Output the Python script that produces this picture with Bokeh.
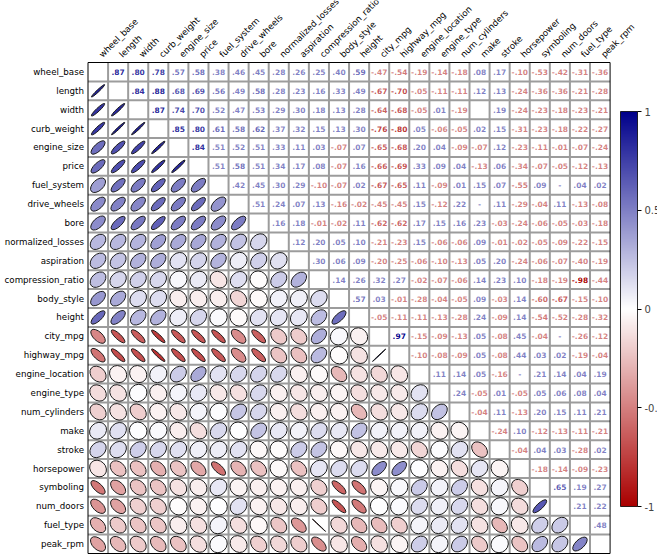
import math
from bokeh.plotting import figure
from bokeh.models import ColumnDataSource, Range1d, LinearColorMapper, ColorBar, FixedTicker
from bokeh.transform import linear_cmap
from bokeh.core.properties import value
from bokeh.embed import file_html
from bokeh.resources import INLINE

labels = ["wheel_base", "length", "width", "curb_weight", "engine_size", "price",
          "fuel_system", "drive_wheels", "bore", "normalized_losses", "aspiration",
          "compression_ratio", "body_style", "height", "city_mpg", "highway_mpg",
          "engine_location", "engine_type", "num_cylinders", "make", "stroke",
          "horsepower", "symboling", "num_doors", "fuel_type", "peak_rpm"]

# upper triangle, row i holds correlations with columns i+1 .. 25
r_wheel_base = [.87, .80, .78, .57, .58, .38, .46, .45, .28, .26, .25, .40, .59, -.47, -.54, -.19, -.14, -.18, .08, .17, -.10, -.53, -.42, -.31, -.36]
r_length = [.84, .88, .68, .69, .56, .49, .58, .28, .23, .16, .33, .49, -.67, -.70, -.05, -.11, -.11, .12, .13, -.24, -.36, -.36, -.21, -.28]
r_width = [.87, .74, .70, .52, .47, .53, .29, .30, .18, .13, .28, -.64, -.68, -.05, .01, -.19, 0.0, .19, -.24, -.23, -.18, -.23, -.21]
r_curb_weight = [.85, .80, .61, .58, .62, .37, .32, .15, .13, .30, -.76, -.80, .05, -.06, -.05, .02, .15, -.31, -.23, -.18, -.22, -.27]
r_engine_size = [.84, .51, .52, .51, .33, .11, .03, -.07, .07, -.65, -.68, .20, .04, -.09, -.07, .12, -.23, -.11, -.01, -.07, -.24]
r_price = [.51, .58, .51, .34, .17, .08, -.07, .16, -.66, -.69, .33, .09, .04, -.13, .06, -.34, -.07, -.05, -.12, -.13]
r_fuel_system = [.42, .45, .30, .29, -.10, -.07, .02, -.67, -.65, .11, -.09, .01, .15, .07, -.55, .09, -0.0, .04, .02]
r_drive_wheels = [.51, .24, .07, .13, -.16, -.02, -.45, -.45, .15, -.12, .22, -0.0, .11, -.29, -.04, .11, -.13, -.08]
r_bore = [.16, .18, -.01, -.02, .11, -.62, -.62, .17, .15, .16, .23, -.03, -.24, -.06, -.05, -.03, -.18]
r_normalized_losses = [.12, .20, .05, .10, -.21, -.23, .15, -.06, -.06, .09, -.01, -.02, -.05, -.09, -.22, -.15]
r_aspiration = [.30, .06, .09, -.20, -.25, -.06, -.10, -.13, .05, .20, -.24, -.06, -.07, -.40, -.19]
r_compression_ratio = [.14, .26, .32, .27, -.02, -.07, -.06, .14, .23, .10, -.18, -.19, -.98, -.44]
r_body_style = [.57, .03, -.01, -.28, -.04, -.05, .09, -.03, .14, -.60, -.67, -.15, -.10]
r_height = [-.05, -.11, -.11, -.13, -.28, .24, -.09, .14, -.54, -.52, -.28, -.32]
r_city_mpg = [.97, -.15, -.09, -.13, .05, -.08, .45, -.04, -0.0, -.26, -.12]
r_highway_mpg = [-.10, -.08, -.09, .05, -.08, .44, .03, .02, -.19, -.04]
r_engine_location = [.11, .14, .05, -.16, -0.0, .21, .14, .04, .19]
r_engine_type = [.24, -.05, .01, -.05, .05, .06, .08, .04]
r_num_cylinders = [-.04, .11, -.13, .20, .15, .11, .21]
r_make = [-.24, .10, -.12, -.13, -.11, -.21]
r_stroke = [-.04, .04, .03, -.28, .02]
r_horsepower = [-.18, -.14, -.09, -.23]
r_symboling = [.65, .19, .27]
r_num_doors = [.21, .22]
r_fuel_type = [.48]

upper_rows = [r_wheel_base, r_length, r_width, r_curb_weight, r_engine_size, r_price,
              r_fuel_system, r_drive_wheels, r_bore, r_normalized_losses, r_aspiration,
              r_compression_ratio, r_body_style, r_height, r_city_mpg, r_highway_mpg,
              r_engine_location, r_engine_type, r_num_cylinders, r_make, r_stroke,
              r_horsepower, r_symboling, r_num_doors, r_fuel_type]

colorbar_ticks = [-1.0, -0.5, 0.0, 0.5, 1.0]
colorbar_tick_labels = {-1.0: "-1", -0.5: "-0.5", 0.0: "0", 0.5: "0.5", 1.0: "1"}

n = len(labels)

def hex_to_rgb(h):
    h = h.lstrip("#")
    return tuple(int(h[k:k + 2], 16) for k in (0, 2, 4))

def mix(c1, c2, t):
    return "#%02x%02x%02x" % tuple(int(round(a + (b - a) * t)) for a, b in zip(c1, c2))

NEG = hex_to_rgb("#AA0000")
MID = (255, 255, 255)
POS = hex_to_rgb("#00008B")
palette = []
for k in range(256):
    t = k / 255.0
    if t < 0.5:
        palette.append(mix(NEG, MID, t / 0.5))
    else:
        palette.append(mix(MID, POS, (t - 0.5) / 0.5))

def fmt(d):
    s = "{:.2f}".format(d).replace("0.", ".").replace(".00", "")
    return s

# geometry (pixels)
W, H = 657, 557
cw = 20.08
gx0 = 87.5
gy_top, gy_bot = 62.0, 553.0
ch = (gy_bot - gy_top) / n

p = figure(width=W, height=H, output_backend="svg", toolbar_location=None,
           x_axis_type=None, y_axis_type=None, min_border=0,
           x_range=Range1d(-gx0 / cw, (W - gx0) / cw),
           y_range=Range1d(-(H - gy_bot) / ch, n + gy_top / ch))
p.outline_line_color = None
p.background_fill_color = "white"
p.border_fill_color = "white"

# text (upper) and ellipses (lower)
tx, ty, ts, tc, ta = [], [], [], [], []
ex, ey, ew, eh, ea, er = [], [], [], [], [], []
shrink = 0.9
ang = math.atan2(ch, cw)
for i, row in enumerate(upper_rows):
    for k, d in enumerate(row):
        j = i + 1 + k
        tx.append(j + 0.5)
        ty.append(n - i - 0.5)
        ts.append(fmt(d))
        tc.append("#00008B" if d >= 0 else "#AA0000")
        ta.append(max(0.5, abs(d)))
        ex.append(i + 0.5)
        ey.append(n - j - 0.5)
        ew.append(shrink)
        eh.append(shrink - abs(d) * shrink)
        ea.append(ang if d > 0 else -ang)
        er.append(d)

# grid lines
gxs, gys = [], []
for k in range(1, n):
    gxs.append([k, k]); gys.append([0, n])
    gxs.append([0, n]); gys.append([k, k])
p.multi_line(gxs, gys, line_color="#9c9c9c", line_width=2)
p.quad(left=[0], right=[n], bottom=[0], top=[n], fill_color=None,
       line_color="black", line_width=1)

esrc = ColumnDataSource(dict(x=ex, y=ey, w=ew, h=eh, a=ea, r=er))
p.ellipse(x="x", y="y", width="w", height="h", angle="a", source=esrc,
          fill_color=linear_cmap("r", palette, -1, 1), line_color="#1a1a1a",
          line_width=1)

tsrc = ColumnDataSource(dict(x=tx, y=ty, s=ts, c=tc, a=ta))
p.text(x="x", y="y", text="s", source=tsrc, text_color="c", text_alpha="a",
       text_font=value("DejaVu Sans"), text_font_style="bold",
       text_font_size="7.5px", text_align="center", text_baseline="alphabetic")

# row labels
p.text(x=[0] * n, y=[n - i - 0.5 for i in range(n)], text=labels, x_offset=-4,
       text_font=value("DejaVu Sans"), text_font_size="8.7px", text_color="black",
       text_align="right", text_baseline="middle")
# column labels
p.text(x=[j + 0.5 for j in range(n)], y=[n] * n, text=labels, x_offset=6, y_offset=-3,
       angle=math.pi / 4, text_font=value("DejaVu Sans"), text_font_size="8.7px",
       text_color="black", text_align="left", text_baseline="bottom")

mapper = LinearColorMapper(palette=palette, low=-1, high=1)
cb = ColorBar(color_mapper=mapper, ticker=FixedTicker(ticks=colorbar_ticks),
              major_label_overrides=colorbar_tick_labels,
              width=17, height=395, padding=0, margin=0,
              location=(620, H - 506), bar_line_color="black", bar_line_width=0.8,
              major_tick_line_color="black", major_tick_out=4, major_tick_in=0,
              minor_tick_line_color=None, label_standoff=3,
              major_label_text_font="DejaVu Sans",
              major_label_text_font_size="10px",
              border_line_color=None, background_fill_alpha=0)
p.add_layout(cb)

open("out.html", "w").write(file_html(p, INLINE))
